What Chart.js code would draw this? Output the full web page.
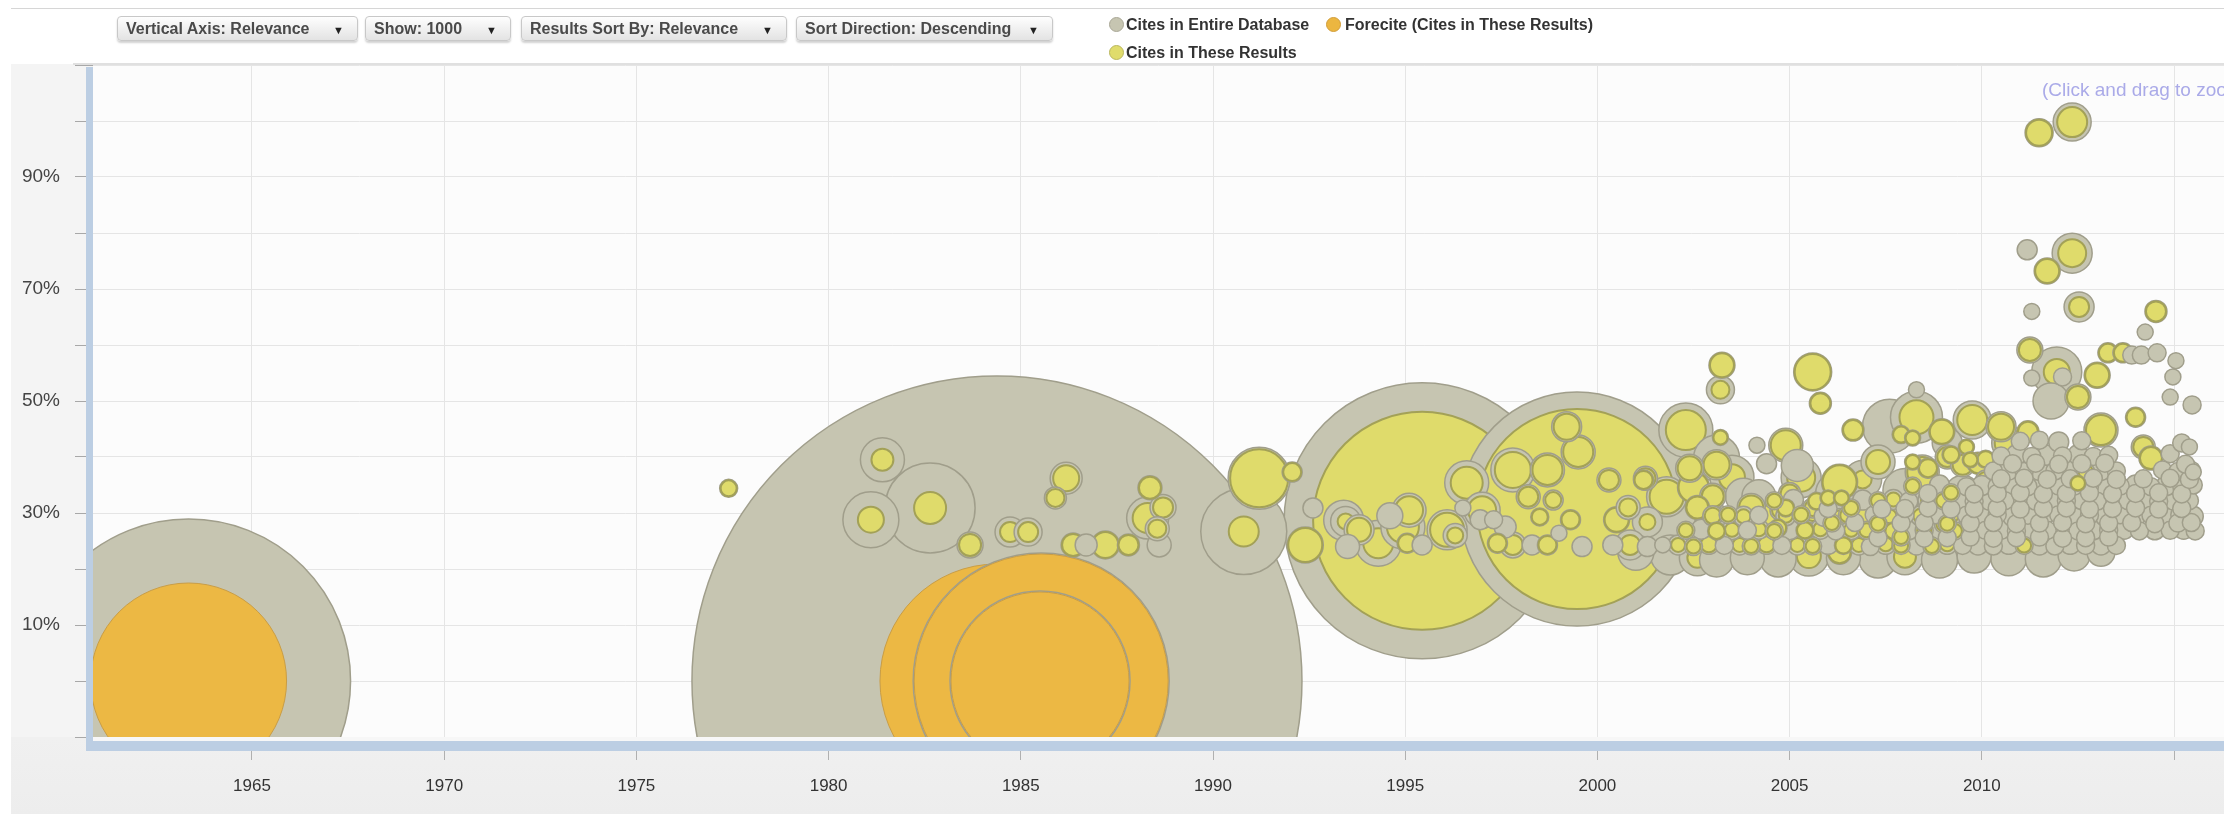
<!DOCTYPE html>
<html>
<head>
<meta charset="utf-8">
<script src="https://cdn.jsdelivr.net/npm/chart.js@4"></script>
<style>
  html, body { margin:0; padding:0; background:#ffffff; }
  #wrap { position:relative; width:2224px; height:814px; overflow:hidden; background:#fff; }
  #c { position:absolute; left:0; top:0; }
  .btn { position:absolute; top:16px; height:25px; box-sizing:border-box; border:1px solid #c8c8c8; border-radius:4px;
         background:linear-gradient(#fefefe,#e3e3e3); box-shadow:0 2px 2px rgba(0,0,0,0.18);
         font:bold 16px "Liberation Sans", Arial, sans-serif; color:#4a4a4a; line-height:23px; padding-left:8px; white-space:nowrap; }
  .btn .arr { position:absolute; right:13px; top:2px; font-size:11px; color:#222; }
  .lg { position:absolute; font:bold 16px "Liberation Sans", Arial, sans-serif; color:#333; white-space:nowrap; line-height:18px; }
  .dot { position:absolute; width:15px; height:15px; border-radius:50%; box-sizing:border-box; }
  #zoomhint { position:absolute; left:2042px; top:79px; font:19px "Liberation Sans", Arial, sans-serif; color:#aaaae8; white-space:nowrap; }
</style>
</head>
<body>
<div id="wrap">
  <canvas id="c" width="2224" height="814" style="width:2224px;height:814px"></canvas>
  <div class="btn" style="left:117px;width:241px">Vertical Axis: Relevance<span class="arr">&#9660;</span></div>
  <div class="btn" style="left:365px;width:146px">Show: 1000<span class="arr">&#9660;</span></div>
  <div class="btn" style="left:521px;width:266px">Results Sort By: Relevance<span class="arr">&#9660;</span></div>
  <div class="btn" style="left:796px;width:257px">Sort Direction: Descending<span class="arr">&#9660;</span></div>
  <div class="dot" style="left:1109px;top:17px;background:#c6c5b1;border:1px solid #a9a796"></div>
  <div class="lg" style="left:1126px;top:16px">Cites in Entire Database</div>
  <div class="dot" style="left:1326px;top:17px;background:#ecb640;border:1px solid #d19d3a"></div>
  <div class="lg" style="left:1345px;top:16px">Forecite (Cites in These Results)</div>
  <div class="dot" style="left:1109px;top:45px;background:#e0dc6c;border:1px solid #b9b65e"></div>
  <div class="lg" style="left:1126px;top:44px">Cites in These Results</div>
  <div id="zoomhint">(Click and drag to zoom)</div>
</div>
<script>
// ---------- DATA ----------
// axis ticks and labels
const xTickValues = [1965,1970,1975,1980,1985,1990,1995,2000,2005,2010,2015];
const xTickLabels = ['1965','1970','1975','1980','1985','1990','1995','2000','2005','2010',''];
const yTickValues = [10, 30, 50, 70, 90];
const yTickLabels = ['10%','30%','50%','70%','90%'];

// Each document: [year, relevance %, bubble size for cites in entire database, bubble size for cites in these results]
// Forecite documents (inner bubble is the Forecite series)
const foreciteDocs = [
  [1963.35, 0, 162, 98],
  [1984.38, 0, 305, 117],
  [1985.53, 0, 128, 127],
  [1985.50, 0, 90, 89]
];

// 1977 - 1992
const earlyDocs = [
  [1977.4,34.4,9,8],[1981.4,39.5,22,11],[1981.1,28.8,28,13],[1982.64,30.9,45,16],[1983.68,24.3,13,11],
  [1984.72,26.6,15,10],[1985.19,26.6,14,10],[1986.18,36.2,16,13],[1985.9,32.7,11,9],[1986.36,24.3,12,11],
  [1986.7,24.3,11,0],[1987.2,24.3,14,13],[1987.8,24.3,11,10],[1988.6,24.3,12,0],[1988.36,34.5,12,11],
  [1988.3,29.1,21,15],[1988.7,31.0,13,10],[1988.55,27.2,12,9],[1990.8,26.7,43,15],[1991.2,36.2,31,29],
  [1992.06,37.3,10,9],[1992.4,24.3,18,17],[1992.6,30.9,10,0]
];

// 1993 - 2002
const midDocs = [
  [1995.44,28.6,138,109],[1999.47,30.7,117,100],
  [1993.4,28.7,20,12],[1993.45,28.5,15,8],[1993.8,27.0,15,12],[1993.5,24.0,12,0],[1994.3,24.6,23,15],
  [1994.6,29.5,13,0],[1995.1,30.5,17,14],[1994.94,27.5,22,16],[1995.05,24.6,10,9],[1995.44,24.3,10,0],
  [1996.09,27.0,20,17],[1996.3,26.0,12,8],[1996.6,35.4,22,16],[1996.5,30.9,8,0],[1997.0,30.5,18,14],
  [1996.95,28.8,10,0],[1997.3,28.8,9,0],[1997.4,24.6,10,9],[1997.6,27.5,11,0],[1997.8,24.3,13,10],
  [1998.3,24.3,10,0],[1998.7,24.3,10,9],[1997.8,37.7,22,18],[1998.7,37.7,17,15],[1999.2,45.4,15,13],
  [1999.5,40.9,17,15],[1998.2,32.9,12,10],[1998.85,32.3,10,8],[1998.5,29.3,9,8],[1999.0,26.4,8,0],
  [1999.3,28.8,10,9],[1999.6,24.0,10,0],[2000.3,35.9,12,10],[2000.8,31.0,12,9],[2001.3,28.4,15,8],
  [2000.5,28.8,13,12],[2001.2,35.9,10,9],[2000.4,24.3,10,0],[2000.85,24.3,15,10],[2001.3,24.0,10,0],
  [2001.7,24.3,8,0],[2001.8,32.9,20,17],[2001.25,36.2,12,10]
];

// 2002 - 2016, larger and outlying documents
const lateDocs = [
  [2002.3,44.8,27,20],[2002.5,34.6,16,15],[2002.6,31.0,12,11],[2003.2,43.5,8,7],[2003.24,56.4,13,12],
  [2003.2,52.0,14,9],[2003.5,36.4,22,13],[2004.15,42.1,8,0],[2004.4,38.8,10,0],[2004.9,42.1,17,15],
  [2005.3,36.3,20,14],[2005.6,55.2,19,18],[2005.8,49.6,11,10],[2006.3,35.5,18,17],[2006.0,32.7,8,7],
  [2006.35,32.7,8,7],[2006.65,44.8,11,10],[2007.3,39.1,17,12],[2008.3,52.0,8,0],[2008.3,47.1,26,17],
  [2008.2,43.4,8,7],[2008.45,37.3,17,15],[2008.2,39.1,8,7],[2008.96,44.5,13,12],[2009.2,40.4,9,8],
  [2009.6,41.8,8,7],[2009.75,46.6,19,15],[2009.7,39.5,8,7],[2010.1,39.6,9,8],[2010.5,45.4,15,13],
  [2010.7,42.5,17,14],[2011.2,44.5,11,10],[2012.5,35.3,8,7],
  [2011.18,77.0,10,0],[2011.3,66.0,8,0],[2011.25,59.1,13,11],[2011.3,54.1,8,0],[2011.49,97.9,14,13],
  [2011.7,73.2,13,12],[2011.8,50.0,18,0],[2011.95,55.2,25,13],[2012.1,54.3,9,0],[2012.35,99.8,19,15],
  [2012.35,76.4,20,14],[2012.5,50.7,13,11],[2012.53,66.8,15,10],[2013.0,54.6,13,12],[2013.1,44.8,17,15],
  [2013.28,58.6,10,9],[2013.67,58.6,10,9],[2013.9,58.2,9,0],[2014.0,47.1,10,9],[2014.15,58.2,9,0],
  [2014.2,41.8,12,10],[2014.25,62.3,8,0],[2014.4,39.8,12,11],[2014.53,66.0,11,10],[2014.56,58.6,9,0],
  [2014.9,50.7,8,0],[2014.97,54.3,8,0],[2015.05,57.2,8,0],[2015.4,41.8,8,0],[2015.47,49.3,9,0],[2015.5,37.3,8,0],
  [2003.1,38.6,15,13],[2004.5,29.3,14,12],[2005.6,30.0,10,8],[2006.3,29.0,10,8],[2007.5,28.0,16,14],
  [2009.1,40.0,12,10],[2009.5,38.6,12,10],[2009.9,38.9,11,10],[2010.1,35.9,10,8],[2009.0,28.0,9,7],
  [2006.2,24.0,12,10],[2007.8,31.5,10,8],[2005.0,33.5,11,9],[2004.0,31.0,14,12],[2003.0,33.0,13,11],
  [2003.1,39.8,23,0],[2004.2,32.9,17,0],[2004.75,30.5,10,8],[2005.6,30.9,10,8],[2006.2,33.6,20,7],
  [2007.6,45.5,27,0],[2009.1,42.5,15,0],[2004.7,27.3,9,8],[2006.3,23.0,12,11],[2003.8,33.0,18,0],
  [2005.2,38.5,16,0],[2006.9,36.0,19,9],[2008.0,34.0,22,0],[2009.5,33.5,18,8],[2010.3,36.5,16,0],
  [2002.4,38.0,14,12],[2003.0,28.0,18,0],[2005.9,27.5,20,9],[2007.0,30.0,16,12],[2008.7,29.5,18,10],
  [2010.0,29.0,20,0],[2004.9,30.9,9,8],[2007.9,44.0,9,8],[2008.6,38.0,10,9]
];

// wide grey documents along the lower edge of the cloud
const lowerDocs = [
  [2001.9,27.5,30,0],[2002.8,26.5,32,12],[2004.7,27.0,34,14],[2007.4,26.0,32,12],[2009.0,27.0,33,14],
  [2001.0,23.0,18,0],[2001.9,22.5,20,0],[2002.6,22.0,18,10],[2003.1,21.6,17,0],[2003.9,22.0,17,0],
  [2004.7,21.8,18,0],[2005.5,22.3,20,12],[2006.4,22.0,17,0],[2007.3,21.8,19,0],[2008.0,22.2,18,11],
  [2008.9,21.6,18,0],[2009.8,22.3,17,0],[2010.7,22.0,18,0],[2011.6,21.8,18,0],[2012.4,22.5,16,0],[2013.1,23.0,14,0]
];

// dense band of recent documents
const denseDocs = [
  [2002.1,24.3,10,7],[2002.5,24.0,9,7],[2002.9,24.4,10,8],[2003.3,24.2,9,0],[2003.7,24.3,10,7],[2004.0,24.1,9,7],
  [2004.4,24.4,10,8],[2004.8,24.2,9,0],[2005.2,24.3,10,7],[2005.6,24.1,9,7],[2006.0,24.4,10,0],[2006.4,24.2,9,8],
  [2006.8,24.3,10,7],[2007.1,24.0,9,0],[2007.5,24.4,10,7],[2007.9,24.2,9,7],[2008.3,24.3,10,0],[2008.7,24.1,9,7],
  [2009.1,24.4,10,7],[2009.5,24.2,9,0],[2009.9,24.3,10,0],[2010.3,24.1,9,0],[2010.7,24.4,10,0],[2011.1,24.2,9,7],
  [2011.5,24.3,10,0],[2011.9,24.1,9,0],[2012.3,24.4,10,0],[2012.7,24.2,9,0],[2013.1,24.3,10,0],[2013.5,24.2,9,0],
  [2002.3,26.9,9,7],[2002.7,27.1,10,0],[2003.1,26.8,9,8],[2003.5,27.0,10,7],[2003.9,26.9,9,0],[2004.2,27.1,10,7],
  [2004.6,26.8,9,7],[2005.0,27.0,10,0],[2005.4,26.9,9,8],[2005.8,27.1,10,7],[2006.2,26.8,9,0],[2006.6,27.0,10,7],
  [2007.0,26.9,9,7],[2007.3,27.1,10,0],[2007.7,26.8,9,8],[2008.1,27.0,10,0],[2008.5,26.9,9,7],[2008.9,27.1,10,0],
  [2009.3,26.8,9,7],[2009.7,27.0,10,0],[2010.1,26.9,9,0],[2010.5,27.1,10,0],[2010.9,26.8,9,0],[2011.3,27.0,10,0],
  [2011.7,26.9,9,0],[2012.1,27.1,10,0],[2012.5,26.8,9,0],[2012.9,27.0,10,0],[2013.3,26.9,9,0],[2013.7,27.1,10,0],
  [2014.1,26.8,9,0],[2014.5,27.0,10,0],[2014.9,26.9,9,0],[2015.25,27.1,10,0],[2015.55,26.8,9,0],
  [2003.0,29.5,10,8],[2003.4,29.7,9,7],[2003.8,29.4,10,7],[2004.2,29.6,9,0],[2004.9,29.5,10,7],[2005.3,29.7,9,7],
  [2005.9,29.4,10,0],[2006.5,29.6,9,7],[2006.9,29.5,10,8],[2007.2,29.7,9,0],[2007.6,29.4,10,7],[2008.0,29.6,9,0],
  [2008.4,29.5,10,7],[2008.8,29.7,9,0],[2009.2,29.4,10,7],[2009.6,29.6,9,0],[2010.0,29.5,10,0],[2010.4,29.7,9,0],
  [2010.8,29.4,10,0],[2011.2,29.6,9,0],[2011.6,29.5,10,0],[2012.0,29.7,9,0],[2012.4,29.4,10,0],[2012.8,29.6,9,0],
  [2013.2,29.5,10,0],[2013.6,29.7,9,0],[2014.0,29.4,10,0],[2014.4,29.6,9,0],[2014.8,29.5,10,0],[2015.15,29.7,9,0],
  [2015.5,29.4,10,0],
  [2004.6,32.2,9,7],[2005.1,32.4,10,0],[2005.7,32.1,9,8],[2006.9,32.3,10,0],[2007.3,32.2,9,7],[2007.7,32.4,10,7],
  [2008.1,32.1,9,0],[2008.6,32.3,10,7],[2009.0,32.2,9,7],[2009.4,32.4,10,0],[2009.8,32.1,9,0],[2010.2,32.3,10,0],
  [2010.6,32.2,9,0],[2011.0,32.4,10,0],[2011.4,32.1,9,0],[2011.8,32.3,10,0],[2012.2,32.2,9,0],[2012.6,32.4,10,0],
  [2013.0,32.1,9,0],[2013.4,32.3,10,0],[2013.8,32.2,9,0],[2014.2,32.4,10,0],[2014.6,32.1,9,0],[2015.0,32.3,10,0],
  [2015.4,32.2,9,0],
  [2008.2,34.8,9,7],[2008.9,35.0,10,0],[2009.6,34.7,9,0],[2010.0,34.9,10,0],[2010.4,34.8,9,0],[2010.8,35.0,10,0],
  [2011.2,34.7,9,0],[2011.6,34.9,10,0],[2012.0,34.8,9,0],[2012.4,35.0,10,0],[2012.8,34.7,9,0],[2013.2,34.9,10,0],
  [2013.6,34.8,9,0],[2014.0,35.0,10,0],[2014.4,34.7,9,0],[2014.8,34.9,10,0],[2015.2,34.8,9,0],[2015.5,35.0,9,0],
  [2010.3,37.5,9,0],[2010.7,37.7,10,0],[2011.1,37.4,9,0],[2011.5,37.6,10,0],[2011.9,37.5,9,0],[2012.3,37.7,10,0],
  [2012.7,37.4,9,7],[2013.1,37.6,10,0],[2013.5,37.5,9,0],[2014.7,37.7,9,0],[2015.1,37.4,9,0],[2015.45,37.6,9,0],
  [2010.5,40.2,9,0],[2010.9,40.4,10,0],[2011.3,40.1,9,0],[2011.7,40.3,10,0],[2012.1,40.2,9,0],[2012.5,40.4,10,0],
  [2012.9,40.1,9,0],[2013.3,40.3,9,0],[2014.9,40.6,9,0],
  [2011.0,42.8,9,0],[2011.5,43.0,9,0],[2012.0,42.7,10,0],[2012.6,42.9,9,0],[2015.2,42.5,9,0]
];

// staggered documents filling between the rows of the dense band
const fillDocs = [
  [2007.3,25.6,9,0],[2007.9,25.7,9,7],[2008.5,25.5,9,0],[2009.1,25.6,9,0],[2009.7,25.7,9,0],[2010.3,25.5,9,0],
  [2010.9,25.6,9,0],[2011.5,25.7,9,0],[2012.1,25.5,9,0],[2012.7,25.6,9,0],[2013.3,25.7,9,0],
  [2006.1,28.2,9,7],[2006.7,28.3,9,0],[2007.3,28.1,9,7],[2007.9,28.2,9,0],[2008.5,28.3,9,0],[2009.1,28.1,9,7],
  [2009.7,28.2,9,0],[2010.3,28.3,9,0],[2010.9,28.1,9,0],[2011.5,28.2,9,0],[2012.1,28.3,9,0],[2012.7,28.1,9,0],
  [2013.3,28.2,9,0],[2013.9,28.3,9,0],[2014.5,28.1,9,0],[2015.1,28.2,9,0],[2015.45,28.3,9,0],
  [2006.0,30.8,9,0],[2006.6,30.9,9,7],[2007.4,30.7,9,0],[2008.0,30.8,9,0],[2008.6,30.9,9,0],[2009.2,30.7,9,0],
  [2009.8,30.8,9,0],[2010.4,30.9,9,0],[2011.0,30.7,9,0],[2011.6,30.8,9,0],[2012.2,30.9,9,0],[2012.8,30.7,9,0],
  [2013.4,30.8,9,0],[2014.0,30.9,9,0],[2014.6,30.7,9,0],[2015.2,30.8,9,0],
  [2008.6,33.5,9,0],[2009.2,33.6,9,7],[2009.8,33.4,9,0],[2010.4,33.5,9,0],[2011.0,33.6,9,0],[2011.6,33.4,9,0],
  [2012.2,33.5,9,0],[2012.8,33.6,9,0],[2013.4,33.4,9,0],[2014.0,33.5,9,0],[2014.6,33.6,9,0],[2015.2,33.4,9,0],
  [2010.5,36.1,9,0],[2011.1,36.2,9,0],[2011.7,36.0,9,0],[2012.3,36.1,9,0],[2012.9,36.2,9,0],[2013.5,36.0,9,0],
  [2014.2,36.1,9,0],[2014.9,36.2,9,0],[2015.4,36.0,9,0],
  [2010.8,38.8,9,0],[2011.4,38.9,9,0],[2012.0,38.7,9,0],[2012.6,38.8,9,0],[2013.2,38.9,9,0],[2015.3,38.7,9,0]
];

// ---------- BUILD ----------
const COL = {
  dbFill:'#c6c5b1', dbLine:'#a09e8b',
  hereFill:'#dfdb6b', hereLine:'#a3a157',
  foreFill:'#ecb844', foreLine:'#c99d45'
};
const docs = [];
foreciteDocs.forEach(d => docs.push({x:d[0], y:d[1], db:d[2], here:d[3], fore:true}));
[earlyDocs, midDocs, lateDocs, lowerDocs, denseDocs, fillDocs].forEach(list =>
  list.forEach(d => docs.push({x:d[0], y:d[1], db:d[2], here:d[3], fore:false})));
docs.sort((a,b) => b.db - a.db);

const points = [], fills = [], lines = [], widths = [];
docs.forEach(d => {
  points.push({x:d.x, y:d.y, r:d.db}); fills.push(COL.dbFill); lines.push(COL.dbLine); widths.push(1.5);
  if (d.here > 0) {
    points.push({x:d.x, y:d.y, r:d.here});
    fills.push(d.fore ? COL.foreFill : COL.hereFill);
    lines.push(d.fore ? COL.foreLine : COL.hereLine);
    widths.push(d.fore ? 1 : 2);
  }
});

const backdrop = {
  id:'backdrop',
  beforeDraw(chart) {
    const c = chart.ctx, a = chart.chartArea, W = chart.width, H = chart.height;
    c.save();
    c.fillStyle = '#ffffff'; c.fillRect(0,0,W,H);
    c.fillStyle = '#f4f4f4'; c.fillRect(11, a.top - 1, W - 11, H - a.top + 1);
    const g = c.createLinearGradient(0, a.bottom, 0, H);
    g.addColorStop(0, '#f0f0f0'); g.addColorStop(1, '#ededed');
    c.fillStyle = g; c.fillRect(11, a.bottom, W - 11, H - a.bottom);
    c.fillStyle = '#fcfcfc'; c.fillRect(a.left, a.top, a.right - a.left, a.bottom - a.top);
    c.fillStyle = '#d6d6d6'; c.fillRect(11, 8, W - 11, 1);
    c.fillStyle = '#e0e0e0'; c.fillRect(73, a.top - 2, W - 73, 2);
    c.restore();
  },
  afterDatasetsDraw(chart) {
    const c = chart.ctx, a = chart.chartArea, W = chart.width;
    c.save();
    c.fillStyle = '#f7f7f7'; c.fillRect(a.left - 7, a.bottom, W, 4);
    c.fillStyle = '#bccee3';
    c.fillRect(a.left - 7, a.top + 2, 7, a.bottom - a.top + 12);
    c.fillRect(a.left - 7, a.bottom + 4, W, 10);
    c.restore();
  }
};

new Chart(document.getElementById('c'), {
  type:'bubble',
  data:{ datasets:[{ label:'Cites', data:points, backgroundColor:fills, borderColor:lines, borderWidth:widths, clip:0 }] },
  options:{
    responsive:false, animation:false,
    layout:{ autoPadding:false, padding:{ top:65, left:0, right:0, bottom:0 } },
    plugins:{ legend:{ display:false }, tooltip:{ enabled:false } },
    elements:{ point:{ hoverRadius:0 } },
    scales:{
      x:{ type:'linear', position:'bottom', min:1960.864, max:2016.3, bounds:'data',
          afterBuildTicks:s => { s.ticks = xTickValues.map(v => ({ value:v })); },
          ticks:{ autoSkip:false, maxRotation:0, padding:16, color:'#333',
                  font:{ family:'"Liberation Sans", Arial, sans-serif', size:17 },
                  callback:v => { const i = xTickValues.indexOf(Math.round(v)); return i >= 0 ? xTickLabels[i] : ''; } },
          grid:{ color:'#e5e5e5', tickColor:'#b0b0b0', tickLength:23, lineWidth:1 },
          border:{ display:false },
          afterFit:s => { s.height = 77; } },
      y:{ type:'linear', position:'left', min:-10, max:110, bounds:'data',
          ticks:{ stepSize:10, includeBounds:false, padding:15, color:'#444',
                  font:{ family:'"Liberation Sans", Arial, sans-serif', size:19 },
                  callback:v => { const i = yTickValues.indexOf(Math.round(v)); return i >= 0 ? yTickLabels[i] : ''; } },
          grid:{ color:'#e5e5e5', tickColor:'#a8a8a8', tickLength:18, lineWidth:1 },
          border:{ display:false },
          afterFit:s => { s.width = 93; } }
    }
  },
  plugins:[backdrop]
});
</script>
</body>
</html>
